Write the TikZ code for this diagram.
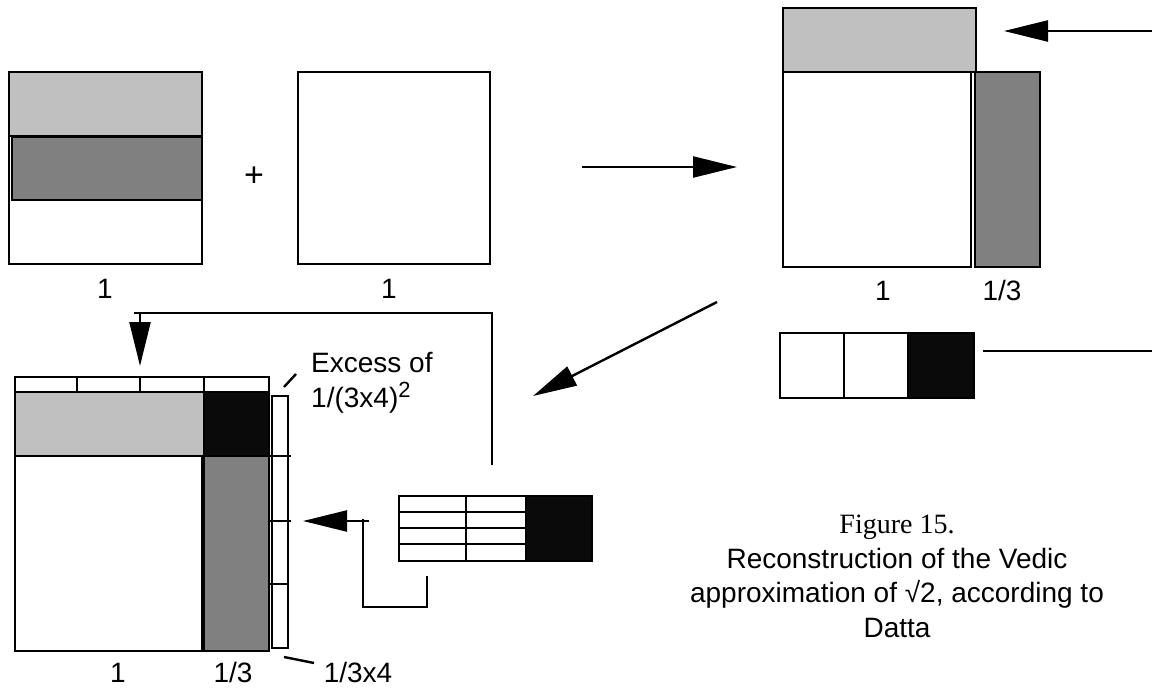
\documentclass[tikz,border=0pt]{standalone}
\usepackage{fontspec}
\setmainfont{Liberation Sans}
\newfontfamily\capserif{Liberation Serif}
\usetikzlibrary{arrows.meta}
\definecolor{lgray}{HTML}{C0C0C0}
\definecolor{dgray}{HTML}{808080}
\definecolor{nblack}{HTML}{0A0A0A}
\begin{document}
\begin{tikzpicture}[x=1pt,y=-1pt,line join=miter,
  cell/.style={draw=black,line width=2.4pt,fill=white},
  lcell/.style={cell,fill=lgray},
  dcell/.style={cell,fill=dgray},
  bcell/.style={cell,fill=nblack},
  ln/.style={draw=black,line width=2.4pt},
  arr/.style={draw=black,line width=2.4pt,-{Triangle[length=44pt,width=21pt]}},
  lbl/.style={font=\fontsize{28}{33}\selectfont,anchor=base,inner sep=0pt},
  captxt/.style={font=\fontsize{28}{33}\selectfont,anchor=base,inner sep=0pt}]
\useasboundingbox (0,0) rectangle (1152,688);

% ---- top-left: square with two bands
\draw[cell] (9,72) rectangle (202,264);
\draw[lcell] (9,72) rectangle (202,136);
\draw[dcell] (12,137) rectangle (202,200);
\draw[ln] (9,72) rectangle (202,264);
\node[lbl] (one1) at (105,298) {1};
\node[font=\fontsize{34}{34}\selectfont,inner sep=0pt] (plus) at (254,177) {+};
% ---- second square
\draw[cell] (298,72) rectangle (490,264);
\node[lbl] (one2) at (389,298) {1};

% ---- arrow right
\coordinate (a1s) at (582,167);
\coordinate (a1e) at (737,167);
\draw[arr] (a1s) -- (a1e);

% ---- top-right gnomon
\draw[lcell] (783,8) rectangle (976,72);
\draw[cell] (783,72) rectangle (971,267);
\draw[dcell] (975,72) rectangle (1040,267);
\node[lbl] (one3) at (883,300) {1};
\node[lbl] (third3) at (1002,300) {1/3};
\coordinate (a2s) at (1152,31);
\coordinate (a2e) at (1004,31);
\draw[arr] (a2s) -- (a2e);

% ---- row of three squares
\draw[cell] (780,333) rectangle (844,398);
\draw[cell] (844,333) rectangle (908,398);
\draw[bcell] (908,333) rectangle (974,398);
\coordinate (l3s) at (983,351);
\coordinate (l3e) at (1152,351);
\draw[ln] (l3s) -- (l3e);

% ---- diagonal arrow
\coordinate (a3s) at (717,302);
\coordinate (a3e) at (533,396);
\draw[arr] (a3s) -- (a3e);

% ---- bottom-left figure
\draw[cell] (15,377) rectangle (269,392);
\draw[ln] (77,377) -- (77,392);
\draw[ln] (140,377) -- (140,396);
\draw[ln] (204,377) -- (204,392);
\draw[lcell] (15,392) rectangle (204,456);
\draw[bcell] (204,392) rectangle (269,456);
\draw[cell] (15,456) rectangle (202,651);
\draw[dcell] (204,456) rectangle (269,651);
\draw[cell] (272,396) rectangle (288,648);
\draw[ln] (269,456) -- (291,456);
\draw[ln] (270,521) -- (291,521);
\draw[ln] (270,584) -- (289,584);
\node[lbl] (one4) at (118,682) {1};
\node[lbl] (third4) at (233,682) {1/3};
\node[lbl] (sxf) at (358,682) {1/3x4};
\draw[ln] (284,657) -- (314,663);
\node[lbl,anchor=base west] (exc1) at (311,372) {Excess of};
\node[lbl,anchor=base west] (exc2) at (311,407) {1/(3x4)\raisebox{10pt}{\fontsize{22}{22}\selectfont 2}};
\draw[ln] (284,387) -- (296,374);

% ---- connector from small table to top strip
\coordinate (d0) at (492,465);
\coordinate (d1) at (492,313);
\coordinate (d2) at (134,313);
\coordinate (d3) at (140,313);
\coordinate (d4) at (140,366);
\draw[ln] (d0) -- (d1) -- (d2);
\draw[arr] (d3) -- (d4);

% ---- small table
\draw[cell] (399,496) rectangle (466,561);
\draw[cell] (466,496) rectangle (526,561);
\draw[bcell] (526,496) rectangle (592,561);
\draw[ln] (399,512) -- (526,512);
\draw[ln] (399,528) -- (526,528);
\draw[ln] (399,544) -- (526,544);

% ---- connector to right strip
\coordinate (e0) at (427,576);
\coordinate (e1) at (427,607);
\coordinate (e2) at (363,607);
\coordinate (e3) at (363,519);
\coordinate (e4) at (369,521);
\coordinate (e5) at (303,521);
\draw[ln] (e0) -- (e1) -- (e2) -- (e3);
\draw[arr] (e4) -- (e5);

% ---- caption
\node[captxt] (c1) at (897,533) {\capserif Figure 15.};
\node[captxt] (c2) at (897,568) {Reconstruction of the Vedic};
\node[captxt] (c3) at (897,602) {approximation of √2, according to};
\node[captxt] (c4) at (897,637) {Datta};
\end{tikzpicture}
\end{document}
